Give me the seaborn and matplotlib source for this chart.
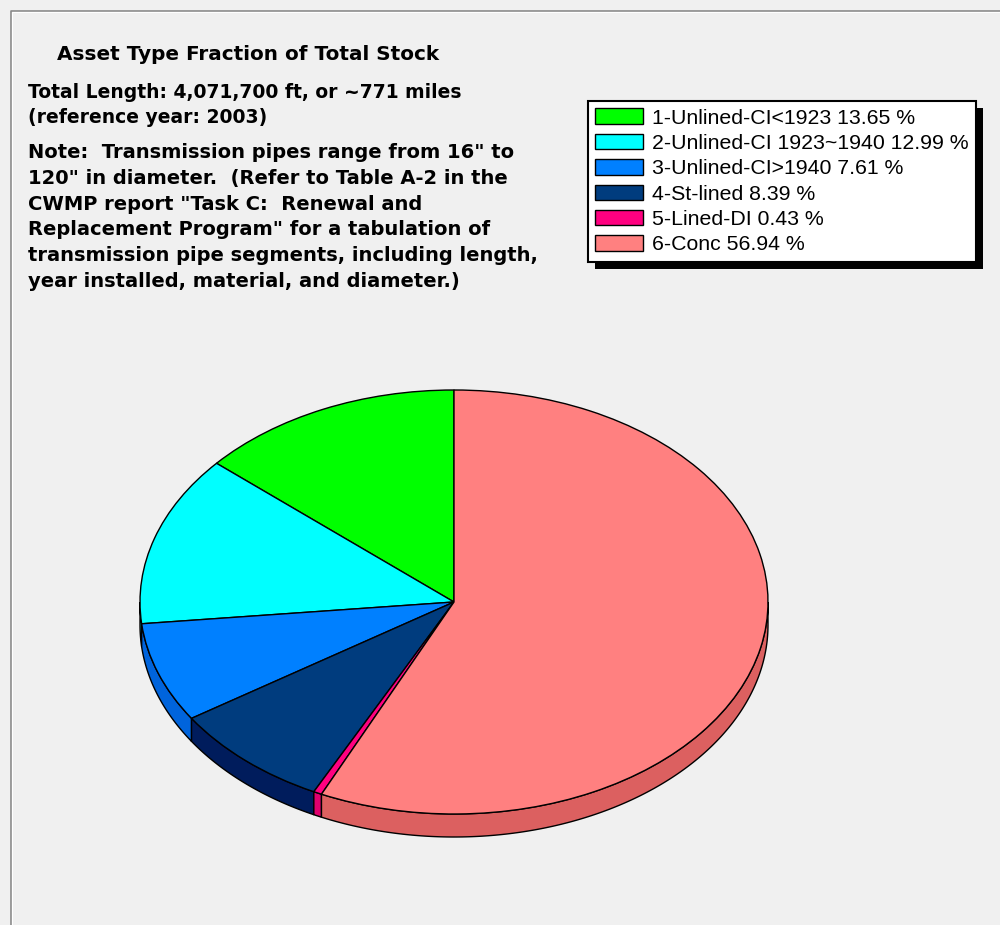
import numpy as np
import matplotlib
matplotlib.use("Agg")
import matplotlib.pyplot as plt
import seaborn as sns
from matplotlib.patches import Polygon, Rectangle
from matplotlib.lines import Line2D
from matplotlib.transforms import IdentityTransform

# ---------------- data ----------------
categories = ["1-Unlined-CI<1923", "2-Unlined-CI 1923~1940", "3-Unlined-CI>1940",
              "4-St-lined", "5-Lined-DI", "6-Conc"]
percent = [13.65, 12.99, 7.61, 8.39, 0.43, 56.94]
top_colors = ["#00FF00", "#00FFFF", "#0080FF", "#003C7E", "#FF0080", "#FF8080"]
side_colors = ["#00C800", "#00D4D4", "#0064DC", "#001C5C", "#E0006E", "#DC6060"]

title = "Asset Type Fraction of Total Stock"
info_lines = ["Total Length: 4,071,700 ft, or ~771 miles",
              "(reference year: 2003)"]
note_lines = ['Note:  Transmission pipes range from 16" to',
              '120" in diameter.  (Refer to Table A-2 in the',
              'CWMP report "Task C:  Renewal and',
              'Replacement Program" for a tabulation of',
              'transmission pipe segments, including length,',
              'year installed, material, and diameter.)']

# ---------------- style ----------------
sns.set_theme(style="white")
plt.rcParams["font.family"] = ["DejaVu Sans"]
plt.rcParams["text.color"] = "black"
BG = "#F0F0F0"

W, H = 1000, 925
fig = plt.figure(figsize=(W / 100, H / 100), dpi=100, facecolor=BG)

# pie axes: unit circle -> ellipse centred at (454, 602) px, rx=314, ry=212
cx, cy, rx, ry = 454, 602, 314, 212
xl, yl = (-1.2, 1.2), (-1.3, 1.2)
left = (cx + xl[0] * rx) / W
bottom = (H - cy + yl[0] * ry) / H
ax = fig.add_axes([left, bottom, (xl[1] - xl[0]) * rx / W, (yl[1] - yl[0]) * ry / H])

wedges, _ = ax.pie(percent, colors=top_colors, startangle=90, counterclock=True,
                   radius=1.0,
                   wedgeprops=dict(edgecolor="black", linewidth=1.0))
for w in wedges:
    w.set_zorder(3)

# 3-D side walls for the front half of the pie
depth = 23 / ry
edges = 90 + 360 * np.concatenate([[0], np.cumsum(percent)]) / np.sum(percent)
for i in range(len(percent)):
    a0, a1 = edges[i], edges[i + 1]
    for lo, hi in [(180, 360), (540, 720)]:
        s, e = max(a0, lo), min(a1, hi)
        if e <= s:
            continue
        t = np.radians(np.linspace(s, e, 200))
        top = np.column_stack([np.cos(t), np.sin(t)])
        bot = np.column_stack([np.cos(t[::-1]), np.sin(t[::-1]) - depth])
        ax.add_patch(Polygon(np.vstack([top, bot]), closed=True,
                             facecolor=side_colors[i], edgecolor="black",
                             linewidth=1.0, zorder=2))

ax.set_aspect("auto")
ax.set_xlim(*xl)
ax.set_ylim(*yl)
ax.axis("off")

# ---------------- texts ----------------
fig.text(57 / W, 1 - 60 / H, title, fontsize=14.4, fontweight="bold",
         va="baseline", ha="left", color="black")
for k, line in enumerate(info_lines):
    fig.text(28 / W, 1 - (98 + 25 * k) / H, line, fontsize=13.5, fontweight="bold",
             va="baseline", ha="left", color="black")
for k, line in enumerate(note_lines):
    fig.text(28 / W, 1 - (158 + 25.8 * k) / H, line, fontsize=14.0, fontweight="bold",
             va="baseline", ha="left", color="black")

# ---------------- legend ----------------
labels = [f"{c} {p:.2f} %" for c, p in zip(categories, percent)]
leg = fig.legend(wedges, labels, loc="upper left",
                 bbox_to_anchor=(588 / W, 1 - 101 / H), bbox_transform=fig.transFigure,
                 borderaxespad=0, fancybox=False, frameon=True, shadow=False,
                 prop=dict(family="Liberation Sans", size=15.3), labelcolor="black",
                 handlelength=2.26, handleheight=0.75, handletextpad=0.38,
                 labelspacing=0.29, borderpad=0.35)
fr = leg.get_frame()
fr.set_facecolor("white")
fr.set_edgecolor("black")
fr.set_linewidth(1.5)
fr.set_alpha(1)

fig.canvas.draw()
bb = leg.get_window_extent()
fig.add_artist(Rectangle((bb.x0 + 7, bb.y0 - 7), bb.width, bb.height,
                         transform=IdentityTransform(), facecolor="black",
                         edgecolor="none", zorder=leg.get_zorder() - 1))

# ---------------- window frame ----------------
fig.add_artist(Line2D([10.5 / W, 10.5 / W, 1], [0, 1 - 10.5 / H, 1 - 10.5 / H],
                      transform=fig.transFigure, color="#8A8A8A", linewidth=1.2))
fig.add_artist(Line2D([12 / W, 12 / W, 1], [0, 1 - 12 / H, 1 - 12 / H],
                      transform=fig.transFigure, color="#FFFFFF", linewidth=0.8))

fig.savefig("out.png", dpi=100, facecolor=BG)
